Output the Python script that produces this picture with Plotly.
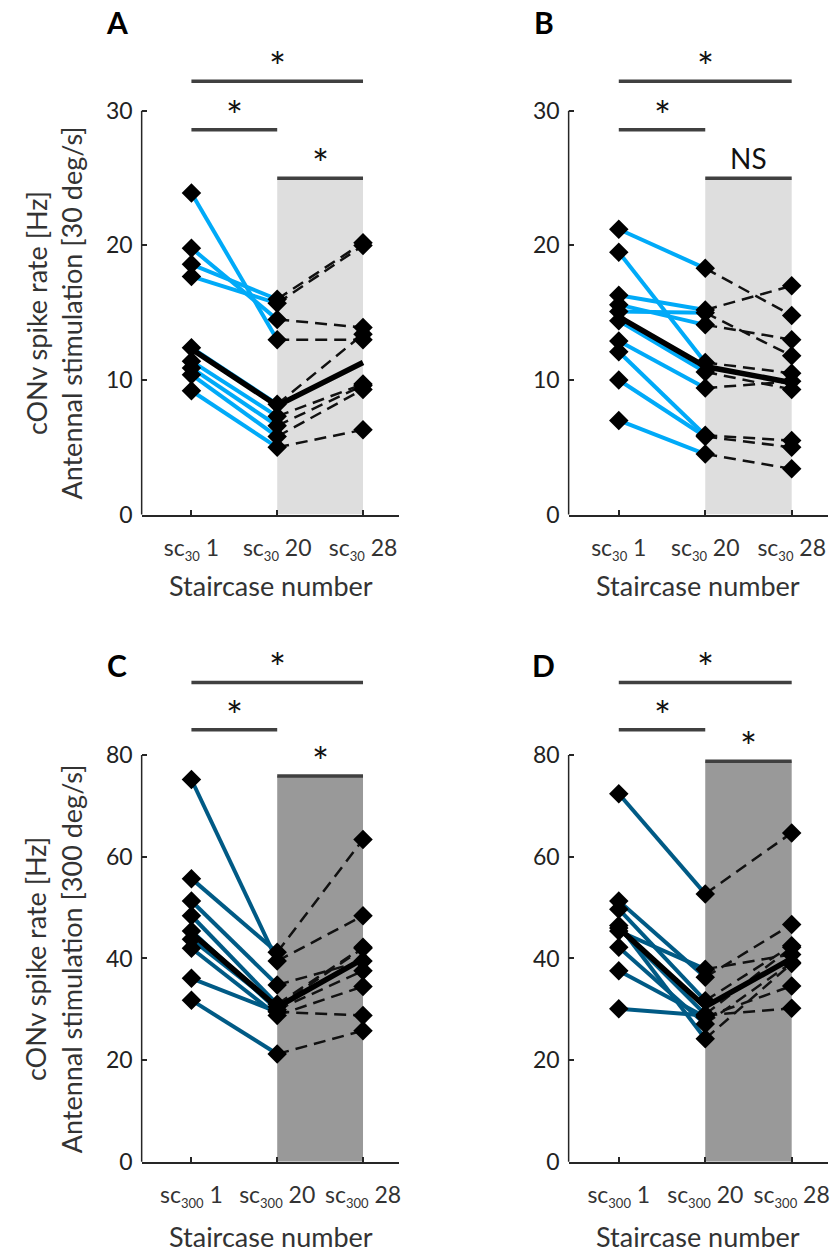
import plotly.graph_objects as go

W, H = 835, 1254
FONT = "Lato"

# ---- data: spike rate at staircases 1, 20 and 28 for each animal ----
stairs = [1, 2, 3]

# 30 deg/s, panel A
a_sc1 = [23.9, 19.8, 18.6, 17.7, 12.4, 11.4, 10.9, 10.4, 9.2]
a_sc20 = [13.0, 14.5, 16.0, 15.7, 8.2, 7.3, 6.6, 5.8, 5.0]
a_sc28 = [13.0, 13.9, 20.2, 20.0, 13.4, 9.7, 9.6, 9.3, 6.3]
a_median = [12.3, 8.1, 11.3]

# 30 deg/s, panel B
b_sc1 = [21.2, 19.5, 16.3, 15.6, 15.1, 14.4, 12.9, 12.1, 10.0, 7.0]
b_sc20 = [18.3, 11.3, 15.2, 14.1, 15.0, 10.6, 9.4, 5.9, 5.8, 4.5]
b_sc28 = [14.8, 10.5, 17.0, 13.0, 11.8, 9.3, 9.9, 5.5, 5.0, 3.4]
b_median = [14.7, 11.0, 9.8]

# 300 deg/s, panel C
c_sc1 = [75.2, 55.7, 51.3, 48.4, 45.4, 43.8, 42.0, 36.1, 31.8]
c_sc20 = [39.5, 41.2, 34.8, 31.0, 29.9, 30.5, 28.8, 29.5, 21.2]
c_sc28 = [48.4, 63.4, 39.5, 42.2, 37.6, 42.0, 34.5, 28.8, 25.8]
c_median = [45.0, 30.4, 39.9]

# 300 deg/s, panel D
d_sc1 = [72.4, 51.3, 49.7, 46.0, 45.4, 42.2, 37.6, 30.1, 46.5]
d_sc20 = [52.7, 36.3, 31.7, 29.0, 37.9, 27.1, 28.5, 28.8, 24.2]
d_sc28 = [64.7, 46.7, 42.5, 42.2, 40.8, 39.2, 34.6, 30.2, 39.0]
d_median = [46.0, 30.5, 40.0]

# significance brackets: (from, to, height, label)
a_sig = [(1, 2, 28.6, "*"), (1, 3, 32.2, "*"), (2, 3, 25.0, "*")]
b_sig = [(1, 2, 28.6, "*"), (1, 3, 32.2, "*"), (2, 3, 25.0, "NS")]
c_sig = [(1, 2, 85.0, "*"), (1, 3, 94.3, "*"), (2, 3, 75.9, "*")]
d_sig = [(1, 2, 85.0, "*"), (1, 3, 94.3, "*"), (2, 3, 78.8, "*")]

top_ticks = [0, 10, 20, 30]
bottom_ticks = [0, 20, 40, 60, 80]
SUB = "<sub><span style='font-size:13px'>%s</span></sub>"
labels_30 = ["sc" + SUB % "30" + " 1", "sc" + SUB % "30" + " 20", "sc" + SUB % "30" + " 28"]
labels_300 = ["sc" + SUB % "300" + " 1", "sc" + SUB % "300" + " 20", "sc" + SUB % "300" + " 28"]

LIGHT_BLUE = "#00AAF8"
DARK_BLUE = "#005A85"

fig = go.Figure()

XR = [0.42, 3.42]
# panel geometry in pixels: horizontal extent, pixel of value 0, pixel of top tick, top of plot area
panels = [
    dict(key="", name="A", px=(142, 400), zero=520, topv=112, top=66, letter_y=22,
         data=(a_sc1, a_sc20, a_sc28, a_median), sig=a_sig, ticks=top_ticks,
         xt=labels_30, col=LIGHT_BLUE, shade="#DEDEDE", xtitle_y=592,
         title="cONv spike rate [Hz]<br>Antennal stimulation [30 deg/s]"),
    dict(key="2", name="B", px=(570, 830), zero=520, topv=112, top=66, letter_y=22,
         data=(b_sc1, b_sc20, b_sc28, b_median), sig=b_sig, ticks=top_ticks,
         xt=labels_30, col=LIGHT_BLUE, shade="#DEDEDE", xtitle_y=592, title=None),
    dict(key="3", name="C", px=(142, 400), zero=1174, topv=763, top=640, letter_y=672,
         data=(c_sc1, c_sc20, c_sc28, c_median), sig=c_sig, ticks=bottom_ticks,
         xt=labels_300, col=DARK_BLUE, shade="#999999", xtitle_y=1249,
         title="cONv spike rate [Hz]<br>Antennal stimulation [300 deg/s]"),
    dict(key="4", name="D", px=(570, 830), zero=1174, topv=763, top=640, letter_y=672,
         data=(d_sc1, d_sc20, d_sc28, d_median), sig=d_sig, ticks=bottom_ticks,
         xt=labels_300, col=DARK_BLUE, shade="#999999", xtitle_y=1249, title=None),
]

layout = dict(
    width=W, height=H, margin=dict(l=0, r=0, t=0, b=0),
    paper_bgcolor="white", plot_bgcolor="white", showlegend=False,
    font=dict(family=FONT, color="#222222"),
)
shapes, annotations = [], []

for p in panels:
    k = p["key"]
    xa, ya = "x" + k, "y" + k
    sc1, sc20, sc28, med = p["data"]
    ytop = p["ticks"][-1]
    per_unit = (p["zero"] - p["topv"]) / ytop
    ymax = (p["zero"] - p["top"]) / per_unit

    layout["xaxis" + k] = dict(
        domain=[p["px"][0] / W, p["px"][1] / W], range=XR, anchor=ya,
        showline=True, linecolor="#262626", linewidth=1.5, ticks="inside", ticklen=5,
        tickwidth=1.5, tickcolor="#262626", tickvals=stairs, ticktext=p["xt"],
        tickfont=dict(size=23, family=FONT, color="#333333"), ticklabelstandoff=12,
        showgrid=False, zeroline=False, fixedrange=True,
    )
    layout["yaxis" + k] = dict(
        domain=[1 - p["zero"] / H, 1 - p["top"] / H], range=[0, ymax], anchor=xa,
        showline=False, ticks="inside", ticklen=5, tickwidth=1.5, tickcolor="#262626",
        tickvals=p["ticks"], tickfont=dict(size=23, family=FONT, color="#222222"),
        ticklabelstandoff=8, showgrid=False, zeroline=False, fixedrange=True,
    )

    # shaded block between staircase 20 and 28
    shade_top = [s for s in p["sig"] if s[0] == 2][0][2]
    shapes.append(dict(type="rect", xref=xa, yref=ya, x0=2, x1=3, y0=0, y1=shade_top,
                       fillcolor=p["shade"], line=dict(width=0), layer="below"))
    # left axis line from 0 to the top tick only
    shapes.append(dict(type="line", xref=xa + " domain", yref=ya + " domain", x0=0, x1=0,
                       y0=0, y1=ytop / ymax, line=dict(color="#262626", width=1.5)))

    # per-animal lines: solid for 1 -> 20, dashed for 20 -> 28
    for v1, v20 in zip(sc1, sc20):
        fig.add_trace(go.Scatter(x=stairs[:2], y=[v1, v20], mode="lines", xaxis=xa, yaxis=ya,
                                 line=dict(color=p["col"], width=4), hoverinfo="skip"))
    for v20, v28 in zip(sc20, sc28):
        fig.add_trace(go.Scatter(x=stairs[1:], y=[v20, v28], mode="lines", xaxis=xa, yaxis=ya,
                                 line=dict(color="#111111", width=2.5, dash="12px,7px"),
                                 hoverinfo="skip"))
    fig.add_trace(go.Scatter(x=stairs, y=med, mode="lines", xaxis=xa, yaxis=ya,
                             line=dict(color="#000000", width=5.5), hoverinfo="skip"))
    for vals, xv in ((sc1, 1), (sc20, 2), (sc28, 3)):
        fig.add_trace(go.Scatter(x=[xv] * len(vals), y=vals, mode="markers", xaxis=xa, yaxis=ya,
                                 marker=dict(symbol="diamond", size=15, color="#000000"),
                                 hoverinfo="skip"))

    # significance brackets
    for x0, x1, yv, lab in p["sig"]:
        shapes.append(dict(type="line", xref=xa, yref=ya, x0=x0, x1=x1, y0=yv, y1=yv,
                           line=dict(color="#404040", width=3.5)))
        if lab == "*":
            annotations.append(dict(xref=xa, yref=ya, x=(x0 + x1) / 2, y=yv, text="*",
                                    showarrow=False, yanchor="middle", yshift=14,
                                    font=dict(size=40, family=FONT, color="#111111")))
        else:
            annotations.append(dict(xref=xa, yref=ya, x=(x0 + x1) / 2, y=yv, text=lab,
                                    showarrow=False, yanchor="bottom", yshift=1,
                                    font=dict(size=28, family=FONT, color="#111111")))

    # panel letter
    annotations.append(dict(xref="paper", yref="paper", x=(p["px"][0] - 25) / W,
                            y=1 - p["letter_y"] / H, text="<b>%s</b>" % p["name"],
                            showarrow=False, xanchor="center", yanchor="middle",
                            font=dict(size=30, family=FONT, color="#000000")))
    # x-axis title
    annotations.append(dict(xref="paper", yref="paper", x=(p["px"][0] + 130) / W,
                            y=1 - p["xtitle_y"] / H, text="Staircase number",
                            showarrow=False, xanchor="center", yanchor="middle",
                            font=dict(size=27, family=FONT, color="#333333")))
    if p["title"]:
        yc = (p["zero"] + p["topv"]) / 2
        annotations.append(dict(xref="paper", yref="paper", x=54 / W, y=1 - yc / H,
                                text=p["title"], showarrow=False, textangle=-90,
                                xanchor="center", yanchor="middle",
                                font=dict(size=27, family=FONT, color="#333333")))

layout["shapes"] = shapes
layout["annotations"] = annotations
fig.update_layout(**layout)
fig.write_html("out.html")
